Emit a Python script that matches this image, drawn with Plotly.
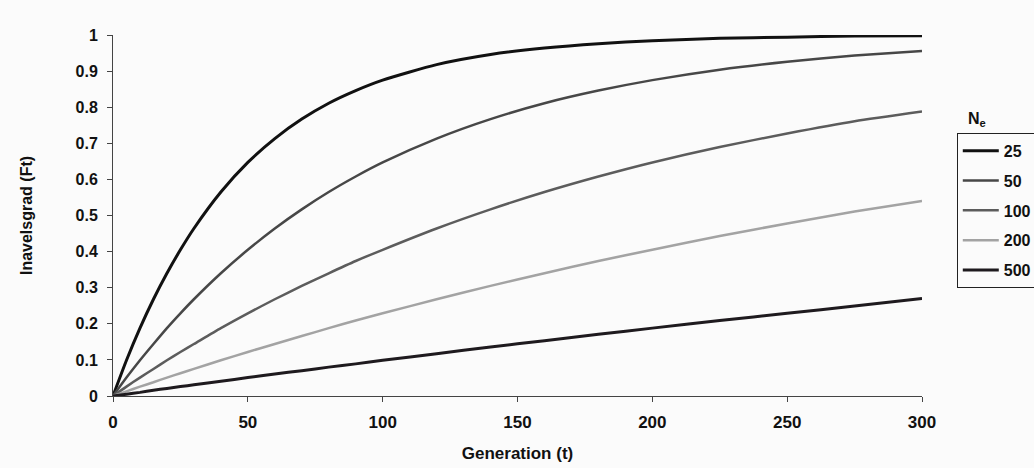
import plotly.graph_objects as go

# Generation (t)
generations = [0, 5, 10, 15, 20, 25, 30, 40, 50, 60, 70, 80, 90, 100,
               120, 140, 160, 180, 200, 225, 250, 275, 300]

# Inavelsgrad (Ft) for each effective population size Ne
f_ne25 = [0, 0.099, 0.188, 0.268, 0.340, 0.405, 0.464, 0.565, 0.647, 0.713,
          0.767, 0.811, 0.846, 0.875, 0.918, 0.946, 0.964, 0.976, 0.984,
          0.991, 0.994, 0.997, 0.998]
f_ne50 = [0, 0.051, 0.099, 0.144, 0.188, 0.229, 0.268, 0.340, 0.405, 0.464,
          0.517, 0.565, 0.608, 0.647, 0.713, 0.767, 0.811, 0.846, 0.875,
          0.904, 0.926, 0.943, 0.956]
f_ne100 = [0, 0.026, 0.051, 0.075, 0.099, 0.122, 0.144, 0.188, 0.229, 0.268,
           0.305, 0.340, 0.374, 0.405, 0.464, 0.517, 0.565, 0.608, 0.647,
           0.690, 0.727, 0.761, 0.788]
f_ne200 = [0, 0.013, 0.026, 0.038, 0.051, 0.063, 0.075, 0.099, 0.122, 0.144,
           0.166, 0.188, 0.209, 0.229, 0.268, 0.305, 0.340, 0.374, 0.405,
           0.443, 0.478, 0.511, 0.540]
f_ne500 = [0, 0.005, 0.010, 0.016, 0.021, 0.026, 0.031, 0.041, 0.051, 0.061,
           0.070, 0.080, 0.089, 0.099, 0.117, 0.136, 0.153, 0.171, 0.188,
           0.209, 0.229, 0.249, 0.270]

series_names = ["25", "50", "100", "200", "500"]
series_values = [f_ne25, f_ne50, f_ne100, f_ne200, f_ne500]
series_colors = ["#111111", "#474747", "#5c5c5c", "#a3a3a3", "#1e1a1e"]
series_widths = [3, 2.5, 2.5, 2.5, 3]

y_ticks = [0, 0.1, 0.2, 0.3, 0.4, 0.5, 0.6, 0.7, 0.8, 0.9, 1]
y_tick_labels = ["0", "0.1", "0.2", "0.3", "0.4", "0.5", "0.6", "0.7", "0.8", "0.9", "1"]
x_ticks = [0, 50, 100, 150, 200, 250, 300]

font_family = "Liberation Sans, Arial, sans-serif"

fig = go.Figure()
for name, vals, col, w in zip(series_names, series_values, series_colors, series_widths):
    fig.add_trace(go.Scatter(
        x=generations, y=vals, mode="lines", name=name,
        legendgroup=name,
        line=dict(color=col, width=w, shape="spline", smoothing=0.6),
        cliponaxis=False,
    ))

fig.update_layout(
    width=1034, height=468,
    margin=dict(l=113, r=112, t=35, b=72, autoexpand=False),
    paper_bgcolor="#fbfbfb",
    plot_bgcolor="#fbfbfb",
    font=dict(family=font_family, color="#111111", size=16),
    showlegend=True,
    legend=dict(
        x=1.043, y=0.729, xanchor="left", yanchor="top",
        bordercolor="#222222", borderwidth=1,
        bgcolor="rgba(0,0,0,0)",
        font=dict(family=font_family, size=16, color="#111111", weight="bold"),
        tracegroupgap=6,
        itemwidth=36,
    ),
    annotations=[dict(
        text="<b>N<sub>e</sub></b>", x=1.054, y=0.735, xref="paper", yref="paper",
        xanchor="left", yanchor="bottom", showarrow=False,
        font=dict(family=font_family, size=16, color="#111111"),
    )],
)

fig.update_xaxes(
    range=[0, 300], tickvals=x_ticks,
    showline=True, linecolor="#444444", linewidth=1,
    ticks="outside", ticklen=5, tickcolor="#444444",
    showgrid=False, zeroline=False,
    tickfont=dict(family=font_family, size=17, weight="bold"),
    ticklabelstandoff=6,
    title=dict(text="<b>Generation (t)</b>", standoff=15,
               font=dict(family=font_family, size=17)),
)
fig.update_yaxes(
    range=[0, 1], tickvals=y_ticks, ticktext=y_tick_labels,
    showline=True, linecolor="#444444", linewidth=1,
    ticks="outside", ticklen=5, tickcolor="#444444",
    showgrid=False, zeroline=False,
    tickfont=dict(family=font_family, size=16, weight="bold"),
    ticklabelstandoff=6,
    title=dict(text="<b>Inavelsgrad (Ft)</b>", standoff=38,
               font=dict(family=font_family, size=16)),
)

fig.write_html("out.html")
